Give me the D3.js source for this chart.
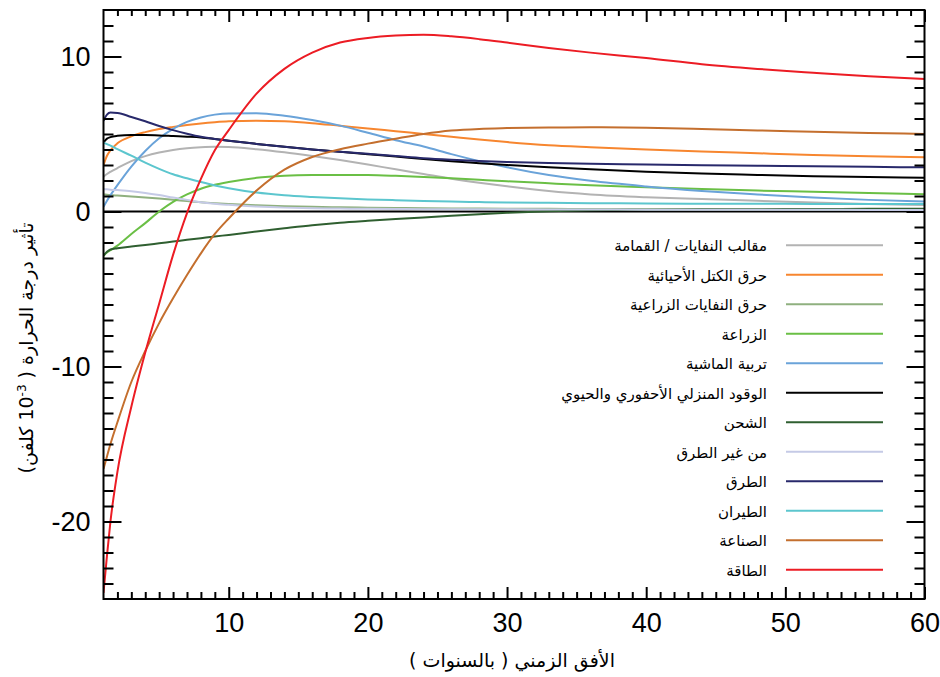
<!DOCTYPE html>
<html>
<head>
<meta charset="utf-8">
<script src="https://cdn.jsdelivr.net/npm/d3@7"></script>
<style>
  body { margin: 0; background: #fff; }
  .tick-label { font-family: "Liberation Sans", Arial, sans-serif; font-size: 27px; fill: #000; }
  .ar { font-family: "DejaVu Sans", sans-serif; fill: #000; }
</style>
</head>
<body>
<svg id="chart" width="940" height="677"></svg>
<script>
// horizon in years
const years = [1, 1.25, 1.5, 2, 3, 4, 5, 6, 7, 8, 9, 10, 12, 14, 16, 18, 20, 22, 24, 26, 28, 30, 33, 36, 40, 44, 48, 52, 56, 60];

// temperature impact (10^-3 K), one array per sector
const landfill    = [2.25, 2.42, 2.56, 2.8, 3.25, 3.57, 3.8, 3.97, 4.08, 4.14, 4.17, 4.16, 4.02, 3.82, 3.58, 3.32, 3.03, 2.72, 2.42, 2.12, 1.86, 1.63, 1.32, 1.1, 0.92, 0.8, 0.69, 0.58, 0.49, 0.42];
const biomass     = [3.0, 3.6, 3.95, 4.4, 4.85, 5.12, 5.32, 5.46, 5.58, 5.68, 5.76, 5.82, 5.86, 5.82, 5.7, 5.53, 5.36, 5.18, 5.0, 4.82, 4.64, 4.48, 4.28, 4.15, 4.0, 3.87, 3.76, 3.65, 3.56, 3.5];
const agriWaste   = [1.1, 1.08, 1.06, 1.03, 0.97, 0.91, 0.84, 0.76, 0.67, 0.59, 0.53, 0.48, 0.4, 0.34, 0.3, 0.27, 0.25, 0.23, 0.21, 0.2, 0.19, 0.18, 0.17, 0.16, 0.15, 0.14, 0.13, 0.12, 0.12, 0.11];
const agriculture = [-2.85, -2.65, -2.5, -2.2, -1.45, -0.75, 0.0, 0.62, 1.1, 1.47, 1.72, 1.9, 2.17, 2.3, 2.35, 2.36, 2.35, 2.3, 2.23, 2.15, 2.05, 1.95, 1.82, 1.7, 1.57, 1.45, 1.35, 1.27, 1.19, 1.12];
const livestock   = [0.3, 0.7, 1.05, 1.7, 2.9, 3.9, 4.72, 5.33, 5.78, 6.07, 6.25, 6.33, 6.34, 6.18, 5.9, 5.54, 5.08, 4.6, 4.19, 3.7, 3.25, 2.85, 2.35, 1.98, 1.62, 1.33, 1.1, 0.9, 0.75, 0.64];
const residential = [4.45, 4.7, 4.8, 4.88, 4.93, 4.93, 4.91, 4.87, 4.83, 4.78, 4.68, 4.57, 4.36, 4.17, 4.0, 3.85, 3.7, 3.55, 3.38, 3.24, 3.12, 3.0, 2.85, 2.72, 2.57, 2.45, 2.36, 2.28, 2.22, 2.17];
const shipping    = [-2.85, -2.6, -2.45, -2.37, -2.26, -2.16, -2.05, -1.94, -1.83, -1.72, -1.61, -1.51, -1.29, -1.08, -0.88, -0.72, -0.6, -0.49, -0.38, -0.27, -0.17, -0.08, 0.02, 0.08, 0.12, 0.14, 0.15, 0.16, 0.17, 0.18];
const offRoad     = [1.45, 1.43, 1.41, 1.38, 1.31, 1.2, 1.06, 0.9, 0.75, 0.6, 0.5, 0.43, 0.32, 0.25, 0.21, 0.19, 0.17, 0.16, 0.15, 0.15, 0.14, 0.14, 0.13, 0.13, 0.12, 0.12, 0.11, 0.11, 0.1, 0.1];
const road        = [5.85, 6.25, 6.38, 6.36, 6.1, 5.82, 5.52, 5.25, 5.02, 4.82, 4.68, 4.57, 4.36, 4.17, 4.0, 3.86, 3.72, 3.58, 3.44, 3.34, 3.26, 3.2, 3.13, 3.08, 3.03, 2.98, 2.95, 2.92, 2.88, 2.85];
const aviation    = [4.45, 4.35, 4.25, 4.02, 3.6, 3.15, 2.75, 2.4, 2.14, 1.9, 1.68, 1.5, 1.22, 1.05, 0.94, 0.85, 0.78, 0.73, 0.68, 0.64, 0.61, 0.58, 0.56, 0.54, 0.52, 0.5, 0.5, 0.49, 0.49, 0.48];
const industry    = [-16.6, -15.8, -15.0, -13.6, -11.0, -9.0, -7.2, -5.6, -4.1, -2.7, -1.45, -0.45, 1.35, 2.7, 3.52, 4.02, 4.38, 4.7, 5.0, 5.22, 5.33, 5.38, 5.42, 5.43, 5.4, 5.32, 5.23, 5.15, 5.07, 5.0];
const energy      = [-24.6, -22.2, -20.0, -16.8, -12.6, -9.1, -5.95, -2.8, -0.1, 2.1, 3.95, 5.25, 7.6, 9.2, 10.25, 10.9, 11.2, 11.35, 11.4, 11.3, 11.12, 10.9, 10.55, 10.25, 9.9, 9.5, 9.2, 8.95, 8.72, 8.55];

// legend labels, same order as the series
const sectorNames = [
  "مقالب النفايات / القمامة",
  "حرق الكتل الأحيائية",
  "حرق النفايات الزراعية",
  "الزراعة",
  "تربية الماشية",
  "الوقود المنزلي الأحفوري والحيوي",
  "الشحن",
  "من غير الطرق",
  "الطرق",
  "الطيران",
  "الصناعة",
  "الطاقة"
];
const sectorColors = ["#b3b3b3", "#f7862f", "#8fb07f", "#6abf45", "#6aa3d9", "#000000",
                      "#2f5f30", "#c5cae6", "#28296b", "#5cc6ce", "#c46f2e", "#ec1c24"];
const seriesValues = [landfill, biomass, agriWaste, agriculture, livestock, residential,
                      shipping, offRoad, road, aviation, industry, energy];

const xMajorTicks = [10, 20, 30, 40, 50, 60];
const yMajorTicks = [-20, -10, 0, 10];
const xTitle = "الأفق الزمني ( بالسنوات )";
const yTitleParts = ["تأثير درجة الحرارة ( ", "10", "-3", " كلفن)"];

var svg = d3.select('#chart');

var plotLeft = 103.5, plotRight = 924.5, plotTop = 10, plotBottom = 599;

var x = d3.scaleLinear().domain([1, 60]).range([plotLeft, plotRight]);
var y = d3.scaleLinear().domain([-25, 13]).range([plotBottom, plotTop]);

svg.append('defs').append('clipPath').attr('id', 'plotClip')
  .append('rect')
  .attr('x', plotLeft).attr('y', plotTop)
  .attr('width', plotRight - plotLeft).attr('height', plotBottom - plotTop);

//zero line
svg.append('line')
  .attr('x1', plotLeft).attr('x2', plotRight)
  .attr('y1', y(0)).attr('y2', y(0))
  .attr('stroke', '#000').attr('stroke-width', 2);

//series lines
var line = d3.line()
  .x(function(d) { return x(d[0]); })
  .y(function(d) { return y(d[1]); })
  .curve(d3.curveMonotoneX);

var lines = svg.append('g').attr('clip-path', 'url(#plotClip)');
seriesValues.forEach(function(vals, i) {
  lines.append('path')
    .datum(years.map(function(yr, k) { return [yr, vals[k]]; }))
    .attr('d', line)
    .attr('fill', 'none')
    .attr('stroke', sectorColors[i])
    .attr('stroke-width', 2);
});

//ticks, all pointing inward on the four sides
var plainFormat = function(d) { return String(d); }; // keeps hyphen-minus like the original
var xMinorVals = d3.range(2, 60).filter(function(v) { return xMajorTicks.indexOf(v) < 0; });
var yMinorVals = d3.range(-24, 13).filter(function(v) { return yMajorTicks.indexOf(v) < 0; });

var bottomAxis = d3.axisBottom(x).tickValues(xMinorVals).tickSizeInner(-7).tickSizeOuter(0).tickFormat('');
var topAxis = d3.axisTop(x).tickValues(xMinorVals).tickSizeInner(-6).tickSizeOuter(0).tickFormat('');
var bottomMajor = d3.axisBottom(x).tickValues(xMajorTicks).tickSizeInner(-12).tickSizeOuter(0).tickPadding(14).tickFormat(plainFormat);
var topMajor = d3.axisTop(x).tickValues(xMajorTicks).tickSizeInner(-12).tickSizeOuter(0).tickFormat('');
var leftAxis = d3.axisLeft(y).tickValues(yMinorVals).tickSizeInner(-10).tickSizeOuter(0).tickFormat('');
var rightAxis = d3.axisRight(y).tickValues(yMinorVals).tickSizeInner(-10).tickSizeOuter(0).tickFormat('');
var leftMajor = d3.axisLeft(y).tickValues(yMajorTicks).tickSizeInner(-18).tickSizeOuter(0).tickPadding(13).tickFormat(plainFormat);
var rightMajor = d3.axisRight(y).tickValues(yMajorTicks).tickSizeInner(-18).tickSizeOuter(0).tickFormat('');

function drawAxis(axis, tx, ty) {
  var g = svg.append('g').attr('transform', 'translate(' + tx + ',' + ty + ')').call(axis);
  g.select('.domain').remove();
  g.selectAll('.tick line').attr('stroke', '#000').attr('stroke-width', 2);
  g.selectAll('.tick text').attr('class', 'tick-label').attr('fill', '#000');
  return g;
}
drawAxis(bottomAxis, 0, plotBottom);
drawAxis(topAxis, 0, plotTop);
drawAxis(bottomMajor, 0, plotBottom);
drawAxis(topMajor, 0, plotTop);
drawAxis(leftAxis, plotLeft, 0);
drawAxis(rightAxis, plotRight, 0);
drawAxis(leftMajor, plotLeft, 0);
drawAxis(rightMajor, plotRight, 0);

//frame
svg.append('rect')
  .attr('x', plotLeft).attr('y', plotTop)
  .attr('width', plotRight - plotLeft).attr('height', plotBottom - plotTop)
  .attr('fill', 'none').attr('stroke', '#000').attr('stroke-width', 2);

//legend
var legendTop = 245.3, legendStep = 29.5;
var legend = svg.append('g');
sectorNames.forEach(function(name, i) {
  var ly = legendTop + i * legendStep;
  legend.append('line')
    .attr('x1', 786).attr('x2', 883)
    .attr('y1', ly).attr('y2', ly)
    .attr('stroke', sectorColors[i]).attr('stroke-width', 2);
  legend.append('text')
    .attr('class', 'ar')
    .attr('x', 767).attr('y', ly + 6)
    .attr('direction', 'rtl')
    .attr('text-anchor', 'start')
    .style('font-size', '15px')
    .text(name);
});

//axis titles
svg.append('text')
  .attr('class', 'ar')
  .attr('x', 512).attr('y', 667)
  .attr('direction', 'rtl')
  .attr('text-anchor', 'middle')
  .style('font-size', '19px')
  .text(xTitle);

var yt = svg.append('text')
  .attr('class', 'ar')
  .attr('transform', 'translate(33,348) rotate(-90)')
  .attr('direction', 'rtl')
  .attr('text-anchor', 'middle')
  .style('font-size', '19px');
yt.append('tspan').text(yTitleParts[0]);
yt.append('tspan').text('\u2066' + yTitleParts[1]);
yt.append('tspan').attr('baseline-shift', 'super').style('font-size', '12px').text(yTitleParts[2] + '\u2069');
yt.append('tspan').text(yTitleParts[3]);
</script>
</body>
</html>
